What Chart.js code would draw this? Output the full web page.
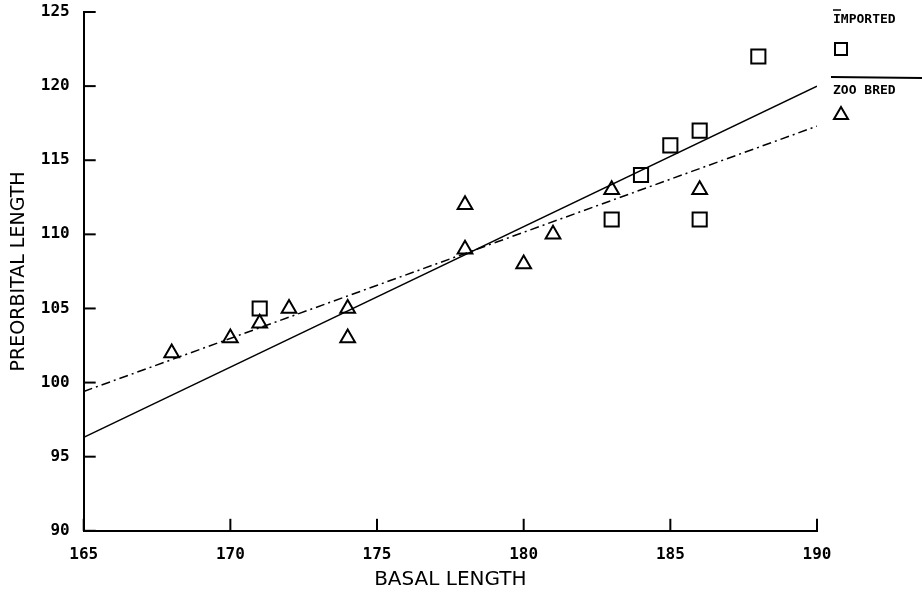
<!DOCTYPE html>
<html>
<head>
<meta charset="utf-8">
<script src="https://cdn.jsdelivr.net/npm/chart.js@4"></script>
<style>
    html, body { margin: 0; padding: 0; background: #fff; }
    canvas { display: block; }
</style>
</head>
<body>
<canvas id="chart" width="922" height="606"></canvas>
<script>
// basal length / preorbital length
var zooBredX = [168, 170, 171, 172, 174, 174, 178, 178, 180, 181, 183, 186];
var zooBredY = [102, 103, 104, 105, 105, 103, 112, 109, 108, 110, 113, 113];
var importedX = [171, 183, 184, 185, 186, 186, 188];
var importedY = [105, 111, 114, 116, 117, 111, 122];

// regression line end points
var fitX = [165, 190];
var importedFitY = [96.3, 120];
var zooBredFitY = [99.4, 117.3];

var xTicks = [165, 170, 175, 180, 185, 190];
var yTicks = [90, 95, 100, 105, 110, 115, 120, 125];

function pairs(xs, ys) {
    return xs.map(function (x, i) { return { x: x, y: ys[i] }; });
}

var monoFont = '"DejaVu Sans Mono", monospace';

// inward tick marks + the legend at the right
var extras = {
    id: 'extras',
    afterDraw: function (chart) {
        var ctx = chart.ctx;
        var a = chart.chartArea;
        var sx = chart.scales.x, sy = chart.scales.y;
        ctx.save();
        ctx.strokeStyle = '#000';
        ctx.lineWidth = 2;
        xTicks.forEach(function (v) {
            var px = sx.getPixelForValue(v);
            ctx.beginPath();
            ctx.moveTo(px, a.bottom);
            ctx.lineTo(px, a.bottom - 12);
            ctx.stroke();
        });
        yTicks.forEach(function (v) {
            var py = sy.getPixelForValue(v);
            ctx.beginPath();
            ctx.moveTo(a.left, py);
            ctx.lineTo(a.left + 12, py);
            ctx.stroke();
        });

        var lx = a.right + 16;
        ctx.fillStyle = '#000';
        ctx.font = 'bold 13px ' + monoFont;
        ctx.textBaseline = 'middle';
        ctx.textAlign = 'left';
        ctx.fillText('IMPORTED', lx, 20);
        ctx.lineWidth = 1.5;
        ctx.beginPath();
        ctx.moveTo(lx, 10);
        ctx.lineTo(lx + 8, 10);
        ctx.stroke();
        ctx.lineWidth = 2;
        ctx.strokeRect(lx + 2, 43, 12, 12);

        ctx.beginPath();
        ctx.moveTo(lx - 2, 77);
        ctx.lineTo(chart.width, 78);
        ctx.stroke();
        ctx.fillText('ZOO BRED', lx, 91);
        ctx.beginPath();
        ctx.moveTo(lx + 8, 107);
        ctx.lineTo(lx + 15, 119);
        ctx.lineTo(lx + 1, 119);
        ctx.closePath();
        ctx.stroke();
        ctx.restore();
    }
};

document.addEventListener('DOMContentLoaded', function () {
    new Chart(document.getElementById('chart'), {
        type: 'scatter',
        data: {
            datasets: [{
                label: 'ZOO BRED',
                data: pairs(zooBredX, zooBredY),
                pointStyle: 'triangle',
                pointRadius: 8.5,
                borderColor: '#000',
                backgroundColor: 'rgba(0,0,0,0)',
                borderWidth: 2
            }, {
                label: 'IMPORTED',
                data: pairs(importedX, importedY),
                pointStyle: 'rect',
                pointRadius: 10,
                borderColor: '#000',
                backgroundColor: 'rgba(0,0,0,0)',
                borderWidth: 2
            }, {
                type: 'line',
                label: 'IMPORTED fit',
                data: pairs(fitX, importedFitY),
                borderColor: '#000',
                borderWidth: 1.5,
                pointRadius: 0,
                fill: false
            }, {
                type: 'line',
                label: 'ZOO BRED fit',
                data: pairs(fitX, zooBredFitY),
                borderColor: '#000',
                borderWidth: 1.5,
                borderDash: [9, 4, 2, 4],
                pointRadius: 0,
                fill: false
            }]
        },
        options: {
            responsive: false,
            animation: false,
            layout: { padding: { left: 8, right: 105, top: 12, bottom: 14 } },
            plugins: {
                legend: { display: false },
                tooltip: { enabled: false }
            },
            scales: {
                x: {
                    type: 'linear',
                    min: 165,
                    max: 190,
                    afterBuildTicks: function (s) { s.ticks = xTicks.map(function (v) { return { value: v }; }); },
                    grid: { drawOnChartArea: false, drawTicks: false },
                    border: { color: '#000', width: 2 },
                    ticks: { color: '#000', padding: 14, font: { family: monoFont, size: 16, weight: 'bold' } },
                    title: {
                        display: true,
                        text: 'BASAL LENGTH',
                        color: '#000',
                        padding: { top: -10, bottom: 0 },
                        font: { family: '"DejaVu Sans", sans-serif', size: 20 }
                    }
                },
                y: {
                    type: 'linear',
                    min: 90,
                    max: 125,
                    afterBuildTicks: function (s) { s.ticks = yTicks.map(function (v) { return { value: v }; }); },
                    afterFit: function (s) { s.paddingTop = 0; s.paddingBottom = 0; },
                    grid: { drawOnChartArea: false, drawTicks: false },
                    border: { color: '#000', width: 2 },
                    ticks: { color: '#000', padding: 14, font: { family: monoFont, size: 16, weight: 'bold' } },
                    title: {
                        display: true,
                        text: 'PREORBITAL LENGTH',
                        color: '#000',
                        padding: { top: 0, bottom: -4 },
                        font: { family: '"DejaVu Sans", sans-serif', size: 19 }
                    }
                }
            }
        },
        plugins: [extras]
    });
});
</script>
</body>
</html>
